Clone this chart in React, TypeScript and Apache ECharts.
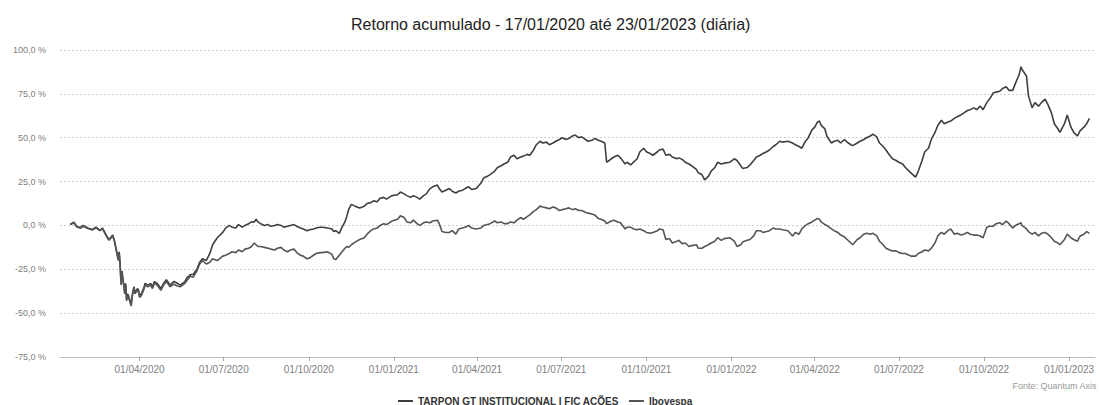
import React, { useEffect, useRef } from "react";
import * as echarts from "echarts";

const chartTitle = "Retorno acumulado - 17/01/2020 até 23/01/2023 (diária)";
const seriesNames = ["TARPON GT INSTITUCIONAL I FIC AÇÕES", "Ibovespa"];
const sourceText = "Fonte: Quantum Axis";

const quarterTicks = [
  "2020-04-01", "2020-07-01", "2020-10-01", "2021-01-01", "2021-04-01", "2021-07-01",
  "2021-10-01", "2022-01-01", "2022-04-01", "2022-07-01", "2022-10-01", "2023-01-01",
];

const dates = [
  "2020-01-17", "2020-01-21", "2020-01-24", "2020-01-28", "2020-01-31",
  "2020-02-05", "2020-02-10", "2020-02-14", "2020-02-18", "2020-02-21", "2020-02-26", "2020-02-28",
  "2020-03-03", "2020-03-05", "2020-03-09", "2020-03-10", "2020-03-11", "2020-03-12", "2020-03-13", "2020-03-16", "2020-03-17", "2020-03-18", "2020-03-19", "2020-03-20", "2020-03-23", "2020-03-24", "2020-03-25", "2020-03-26", "2020-03-27", "2020-03-30", "2020-03-31",
  "2020-04-01", "2020-04-03", "2020-04-06", "2020-04-07", "2020-04-10", "2020-04-13", "2020-04-15", "2020-04-17", "2020-04-20", "2020-04-24", "2020-04-27", "2020-04-30",
  "2020-05-04", "2020-05-08", "2020-05-12", "2020-05-15", "2020-05-20", "2020-05-22", "2020-05-26", "2020-05-29",
  "2020-06-02", "2020-06-05", "2020-06-08", "2020-06-12", "2020-06-16", "2020-06-19", "2020-06-24", "2020-06-30",
  "2020-07-03", "2020-07-07", "2020-07-10", "2020-07-14", "2020-07-17", "2020-07-21", "2020-07-24", "2020-07-28", "2020-07-31",
  "2020-08-03", "2020-08-05", "2020-08-07", "2020-08-10", "2020-08-14", "2020-08-18", "2020-08-21", "2020-08-25", "2020-08-28",
  "2020-09-01", "2020-09-04", "2020-09-08", "2020-09-11", "2020-09-15", "2020-09-18", "2020-09-22", "2020-09-25", "2020-09-29",
  "2020-10-02", "2020-10-06", "2020-10-09", "2020-10-13", "2020-10-16", "2020-10-21", "2020-10-26", "2020-10-28", "2020-10-30",
  "2020-11-03", "2020-11-06", "2020-11-09", "2020-11-11", "2020-11-13", "2020-11-16", "2020-11-20", "2020-11-25", "2020-11-30",
  "2020-12-03", "2020-12-07", "2020-12-10", "2020-12-14", "2020-12-17", "2020-12-21", "2020-12-24", "2020-12-30",
  "2021-01-05", "2021-01-08", "2021-01-12", "2021-01-15", "2021-01-19", "2021-01-22", "2021-01-26", "2021-01-29",
  "2021-02-02", "2021-02-05", "2021-02-09", "2021-02-12", "2021-02-17", "2021-02-19", "2021-02-22", "2021-02-26",
  "2021-03-02", "2021-03-05", "2021-03-09", "2021-03-12", "2021-03-16", "2021-03-19", "2021-03-23", "2021-03-26", "2021-03-31",
  "2021-04-05", "2021-04-08", "2021-04-12", "2021-04-15", "2021-04-20", "2021-04-23", "2021-04-27", "2021-04-30",
  "2021-05-04", "2021-05-07", "2021-05-11", "2021-05-14", "2021-05-18", "2021-05-21", "2021-05-25", "2021-05-28",
  "2021-06-01", "2021-06-04", "2021-06-08", "2021-06-11", "2021-06-15", "2021-06-18", "2021-06-22", "2021-06-25", "2021-06-29",
  "2021-07-02", "2021-07-06", "2021-07-09", "2021-07-13", "2021-07-16", "2021-07-20", "2021-07-23", "2021-07-27", "2021-07-30",
  "2021-08-03", "2021-08-06", "2021-08-10", "2021-08-13", "2021-08-17", "2021-08-19", "2021-08-24", "2021-08-27", "2021-08-31",
  "2021-09-03", "2021-09-08", "2021-09-10", "2021-09-14", "2021-09-17", "2021-09-21", "2021-09-24", "2021-09-28",
  "2021-10-01", "2021-10-05", "2021-10-08", "2021-10-13", "2021-10-15", "2021-10-19", "2021-10-22", "2021-10-26", "2021-10-29",
  "2021-11-03", "2021-11-05", "2021-11-09", "2021-11-12", "2021-11-16", "2021-11-19", "2021-11-24", "2021-11-26", "2021-11-30",
  "2021-12-03", "2021-12-07", "2021-12-10", "2021-12-14", "2021-12-17", "2021-12-21", "2021-12-24", "2021-12-30",
  "2022-01-04", "2022-01-07", "2022-01-11", "2022-01-13", "2022-01-18", "2022-01-21", "2022-01-25", "2022-01-28",
  "2022-02-01", "2022-02-04", "2022-02-08", "2022-02-11", "2022-02-15", "2022-02-18", "2022-02-22", "2022-02-25",
  "2022-03-03", "2022-03-08", "2022-03-11", "2022-03-15", "2022-03-18", "2022-03-22", "2022-03-25", "2022-03-29",
  "2022-04-01", "2022-04-04", "2022-04-06", "2022-04-08", "2022-04-12", "2022-04-14", "2022-04-19", "2022-04-22", "2022-04-26", "2022-04-29",
  "2022-05-03", "2022-05-06", "2022-05-10", "2022-05-12", "2022-05-17", "2022-05-20", "2022-05-24", "2022-05-27", "2022-05-31",
  "2022-06-03", "2022-06-07", "2022-06-10", "2022-06-14", "2022-06-17", "2022-06-21", "2022-06-24", "2022-06-28",
  "2022-07-01", "2022-07-05", "2022-07-08", "2022-07-12", "2022-07-14", "2022-07-19", "2022-07-22", "2022-07-26", "2022-07-29",
  "2022-08-02", "2022-08-05", "2022-08-09", "2022-08-12", "2022-08-16", "2022-08-19", "2022-08-23", "2022-08-26", "2022-08-30",
  "2022-09-02", "2022-09-06", "2022-09-09", "2022-09-13", "2022-09-16", "2022-09-20", "2022-09-23", "2022-09-27", "2022-09-30",
  "2022-10-04", "2022-10-07", "2022-10-11", "2022-10-14", "2022-10-18", "2022-10-21", "2022-10-25", "2022-10-28",
  "2022-11-01", "2022-11-04", "2022-11-08", "2022-11-10", "2022-11-11", "2022-11-16", "2022-11-18", "2022-11-22", "2022-11-25", "2022-11-29",
  "2022-12-02", "2022-12-06", "2022-12-09", "2022-12-13", "2022-12-16", "2022-12-20", "2022-12-22", "2022-12-27", "2022-12-30",
  "2023-01-03", "2023-01-06", "2023-01-10", "2023-01-13", "2023-01-17", "2023-01-20", "2023-01-23",
];

const tarpon = [
  0.5, 1.8, -0.5, -1.2, 0.0,
  -1.5, -2.3, -1.0, -2.8, -1.6, -6.5, -8.0,
  -5.5, -9.0, -19, -15, -22, -33, -26, -38, -33, -42, -39, -40, -45, -40, -37, -35, -38, -36, -37,
  -40, -39, -35, -33, -34, -33, -35, -32, -33, -36, -33, -31,
  -34, -32, -33, -34, -32, -30, -28, -28,
  -25, -21, -19, -20, -16, -11, -7, -4,
  -1.5, 0, -1, -1.5, 0.5, -1, 0, 1, 2,
  2, 3.5, 2, 1, 0, 0.5, -0.5, 0, 0.5,
  0, -1, -0.5, 0, 0.5, -0.5, -1.5, -2, -3,
  -2.5, -2, -1.5, -1, -1, -1.5, -2, -3.5, -3,
  -4.5, -1, 2, 5, 9, 12, 11, 10, 11,
  12.5, 13, 14, 13.5, 15.5, 16, 15, 17,
  17.5, 19, 18, 17, 16, 17, 16, 15,
  17, 18, 21, 22, 23, 21, 19, 20,
  21, 19.5, 18.5, 19.5, 20, 21, 22, 20.5, 21,
  24, 27, 28, 29, 31, 33, 34, 35,
  36, 39, 40, 38, 39, 39.5, 40.5, 40,
  43, 46, 48, 47, 47.5, 46, 47, 48, 49,
  50, 49, 49.5, 51, 51.5, 50, 50.5, 49, 48,
  48.5, 49.5, 48.5, 48, 47, 36, 38, 39, 40,
  38.5, 35, 36, 34.5, 36, 38, 42, 44,
  42, 41, 40, 42, 43, 43.5, 40, 40.5, 39,
  38, 38.5, 37.5, 36, 35, 34, 32, 30, 29,
  26, 28, 31, 33, 36, 35, 35.5, 36,
  38, 37, 34, 32.5, 33, 34.5, 37, 39,
  40, 41, 42, 43, 45, 46, 48, 47.5,
  48, 47, 46, 45, 44, 48, 50, 54.5,
  56, 59, 59.5, 57, 55, 51, 47, 48, 48.5, 47,
  49, 47.5, 46, 45.5, 47, 48, 49, 50, 51,
  52, 50.5, 47, 45, 43, 40, 38, 37,
  36, 35, 33, 31, 30, 27.5, 31, 37, 42,
  44, 49, 53, 57, 60, 58, 59, 59.5, 61,
  62, 63, 64, 65.5, 66, 67, 66, 68, 66,
  70, 72, 75.5, 76, 76.5, 78, 79, 77,
  77, 81, 86, 90.5, 89, 85, 74, 67, 70, 68,
  70, 72, 69, 64, 58, 55, 53, 58, 63,
  56, 53, 51, 54, 56, 58, 61,
];

const ibovespa = [
  0.5, 1.5, -0.8, -1.6, -0.5,
  -1.8, -2.6, -1.4, -3.0, -2.0, -7.0, -8.5,
  -6.0, -9.5, -20, -16, -23, -34, -27, -39, -34, -43, -40, -41, -46, -41, -38, -36, -39, -37, -38,
  -41, -40, -36, -34, -35, -34, -36, -33, -34, -37, -34, -32,
  -35, -33.5, -34.5, -35, -33, -31.5, -29, -29.5,
  -26, -22, -20, -22, -21, -19, -20, -17.5,
  -17, -16, -15, -15.5, -14, -15, -13.5, -13, -12,
  -10, -11, -12, -12, -12.5, -13, -13.5, -14, -13,
  -12.5, -14, -15, -14, -13.5, -15.5, -17, -17.5, -19,
  -18.5, -17, -16, -15.5, -15.5, -15, -16.5, -19, -19.5,
  -17, -15, -13, -12, -12.5, -11, -9.5, -8, -7,
  -5, -3, -2, -1.5, 0, 1, 0.5, 2.5,
  3.5, 5.5, 4.5, 2, 1.5, 3, 1, 0,
  1.5, 2, 1.5, 2.5, 3, 1, -3.5, -4,
  -4, -3, -5, -2, -1.5, -1, 0, -1.5, -2,
  -1.5, 0, 0.5, 1, 2.5, 1.5, 2, 1,
  1, 2, 1.5, 3, 4.5, 3.5, 5, 6,
  8, 9, 11, 10.5, 10, 9.5, 10.5, 10, 8.5,
  9, 9.5, 10, 9, 9.5, 8.5, 8.5, 7.5, 7,
  6.5, 6, 4, 3.5, 2.5, 1, 2.5, 3, 2,
  1.5, -2, -1, -1, -2, -2.5, -2, -3,
  -4, -4.5, -4, -3, -2, -2.5, -8, -7.5, -10,
  -9, -8.5, -10.5, -10, -12, -11.5, -11, -13, -13,
  -12, -11, -10, -9, -7, -8.5, -7.5, -7,
  -9, -12, -11, -9.5, -8.5, -8, -6, -3,
  -3, -4, -3.5, -3, -1.5, -2, -2, -2.5,
  -3, -6, -4, -5, -2, 0, 1, 2,
  3, 4, 3.5, 2, 0.5, 0, -2, -3, -4, -5.5,
  -6.5, -8, -10, -11, -8, -7, -5, -4.5, -5,
  -4.5, -6, -9, -11, -13, -14, -14.5, -14.5,
  -15.5, -16, -16, -17, -17.5, -17.5, -16, -15, -14,
  -14.5, -13, -10, -6, -4, -5, -3, -2, -5,
  -4.5, -5.5, -5, -4, -5, -5.5, -5.5, -6, -7,
  -1, -0.5, -0.5, 1, 1.5, 0.5, 2.5, 1,
  -1.5, 0, 1, 1.5, 0, -2, -3.5, -5, -4, -6,
  -4.5, -4, -5, -7, -9, -10, -11, -8, -5,
  -7, -8, -9, -6, -5, -3.5, -4.5,
];

const axisStart = "2020-01-06";
const axisEnd = "2023-01-29";

const FONT = "'Liberation Sans', Arial, sans-serif";

function toTs(s: string): number {
  const [y, m, d] = s.split("-").map(Number);
  return new Date(y, m - 1, d).getTime();
}

function pad(n: number): string {
  return n < 10 ? "0" + n : String(n);
}

export default function App() {
  const ref = useRef<HTMLDivElement>(null);

  useEffect(() => {
    document.body.style.margin = "0";
    if (!ref.current) return;
    const chart = echarts.init(ref.current, null, { renderer: "svg" });
    const ticks = quarterTicks.map(toTs);
    const tData = dates.map((d, i) => [toTs(d), tarpon[i]]);
    const iData = dates.map((d, i) => [toTs(d), ibovespa[i]]);

    chart.setOption({
      animation: false,
      backgroundColor: "#ffffff",
      textStyle: { fontFamily: FONT },
      title: {
        text: chartTitle,
        left: 346,
        top: 11,
        textStyle: { fontSize: 16, fontWeight: "normal", color: "#222", fontFamily: FONT },
      },
      legend: {
        left: 393,
        top: 391,
        icon: "rect",
        itemWidth: 15,
        itemHeight: 2,
        itemGap: 10,
        data: seriesNames,
        textStyle: { fontSize: 10, fontWeight: "bold", color: "#333", fontFamily: FONT },
      },
      grid: { left: 60, right: 5, top: 50, bottom: 48, containLabel: false },
      xAxis: {
        type: "value",
        min: toTs(axisStart),
        max: toTs(axisEnd),
        axisLine: { onZero: false, lineStyle: { color: "#bdbdbd", width: 1 } },
        axisTick: { show: true, customValues: ticks, length: 4, lineStyle: { color: "#aaa" } },
        axisLabel: {
          customValues: ticks,
          fontSize: 10,
          color: "#808080",
          margin: 7,
          fontFamily: FONT,
          formatter: (v: number) => {
            const dt = new Date(v);
            return pad(dt.getDate()) + "/" + pad(dt.getMonth() + 1) + "/" + dt.getFullYear();
          },
        },
        splitLine: { show: false },
      },
      yAxis: {
        type: "value",
        min: -75,
        max: 100,
        interval: 25,
        axisLine: { show: false },
        axisTick: { show: false },
        axisLabel: {
          fontSize: 9,
          color: "#808080",
          margin: 14,
          fontFamily: FONT,
          formatter: (v: number) => v.toFixed(1).replace(".", ",") + " %",
        },
        splitLine: { show: true, lineStyle: { color: "#cfcfcf", type: [2, 2], width: 1 } },
      },
      graphic: [
        {
          type: "text",
          right: 3,
          top: 381,
          style: { text: sourceText, fontSize: 9, fill: "#999", fontFamily: FONT },
        },
      ],
      series: [
        {
          name: seriesNames[0],
          type: "line",
          data: tData,
          symbol: "none",
          showSymbol: false,
          color: "#3f3f3f",
          lineStyle: { width: 1.6, color: "#3f3f3f" },
        },
        {
          name: seriesNames[1],
          type: "line",
          data: iData,
          symbol: "none",
          showSymbol: false,
          color: "#555555",
          lineStyle: { width: 1.6, color: "#555555" },
        },
      ],
    });

    return () => chart.dispose();
  }, []);

  return <div ref={ref} style={{ width: 1100, height: 405 }} />;
}
